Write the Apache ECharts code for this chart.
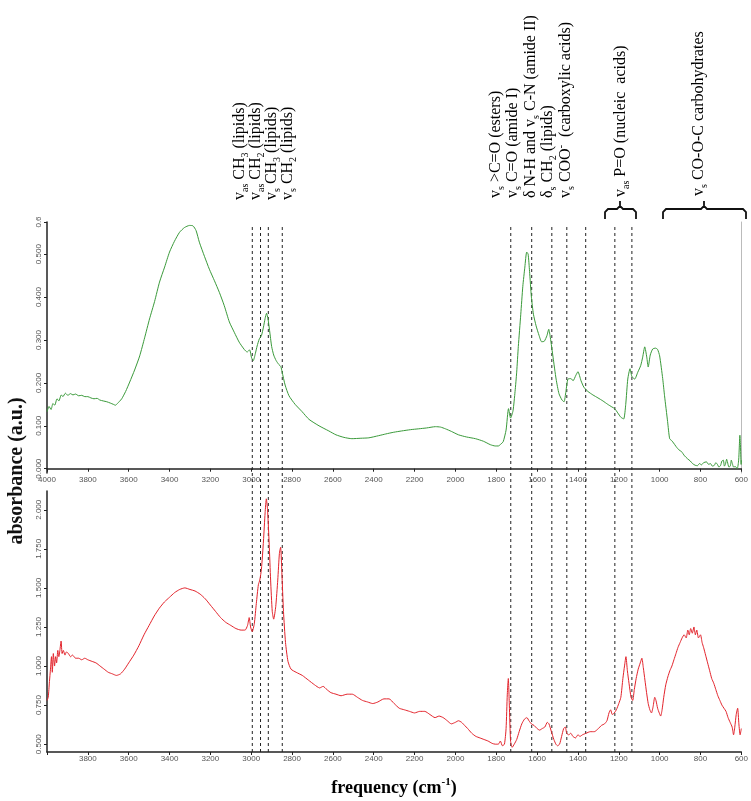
<!DOCTYPE html>
<html>
<head>
<meta charset="utf-8">
<script src="https://cdn.jsdelivr.net/npm/echarts@6/dist/echarts.min.js"></script>
<style>
html, body { margin: 0; padding: 0; background: #fff; }
#chartID { width: 751px; height: 801px; }
</style>
</head>
<body>
<div id="chartID"></div>
<script>
// upper spectrum (green)
var greenWn = [4000, 3990, 3980, 3971, 3962, 3951, 3942, 3930, 3922, 3910, 3898, 3885, 3873, 3860, 3845, 3830, 3815, 3800, 3785, 3770, 3755, 3741, 3725, 3707, 3690, 3675, 3665, 3655, 3645, 3634, 3615, 3595, 3571, 3546, 3522, 3498, 3473, 3449, 3424, 3400, 3376, 3351, 3327, 3302, 3285, 3270, 3254, 3229, 3205, 3180, 3156, 3132, 3107, 3083, 3059, 3034, 3020, 3008, 2998, 2990, 2980, 2971, 2960, 2950, 2940, 2932, 2925, 2918, 2910, 2900, 2890, 2878, 2865, 2855, 2849, 2834, 2815, 2785, 2751, 2717, 2668, 2620, 2585, 2546, 2507, 2463, 2424, 2376, 2341, 2302, 2263, 2220, 2180, 2141, 2098, 2073, 2049, 2020, 1985, 1946, 1902, 1863, 1829, 1805, 1790, 1776, 1766, 1752, 1740, 1730, 1718, 1708, 1700, 1692, 1680, 1670, 1660, 1651, 1644, 1637, 1628, 1618, 1605, 1590, 1578, 1565, 1552, 1543, 1535, 1522, 1507, 1493, 1478, 1468, 1459, 1449, 1434, 1424, 1410, 1400, 1385, 1371, 1351, 1327, 1302, 1278, 1254, 1234, 1220, 1205, 1190, 1176, 1166, 1156, 1145, 1136, 1122, 1107, 1093, 1083, 1073, 1063, 1056, 1046, 1034, 1020, 1010, 1000, 985, 976, 961, 951, 940, 932, 920, 912, 900, 893, 878, 863, 850, 839, 826, 815, 805, 795, 785, 771, 760, 751, 742, 732, 725, 717, 710, 702, 695, 688, 683, 678, 672, 668, 661, 654, 649, 644, 638, 629, 620, 613, 607, 604, 601, 600];
var greenAbs = [0.133, 0.145, 0.138, 0.152, 0.148, 0.163, 0.158, 0.172, 0.168, 0.176, 0.171, 0.175, 0.172, 0.174, 0.17, 0.171, 0.168, 0.168, 0.165, 0.163, 0.164, 0.16, 0.158, 0.156, 0.153, 0.15, 0.148, 0.152, 0.157, 0.163, 0.18, 0.202, 0.23, 0.263, 0.305, 0.349, 0.39, 0.435, 0.47, 0.505, 0.53, 0.551, 0.562, 0.567, 0.566, 0.555, 0.528, 0.495, 0.465, 0.438, 0.411, 0.38, 0.342, 0.318, 0.295, 0.278, 0.272, 0.277, 0.258, 0.252, 0.268, 0.286, 0.303, 0.31, 0.33, 0.35, 0.362, 0.35, 0.322, 0.285, 0.265, 0.252, 0.243, 0.238, 0.226, 0.195, 0.17, 0.15, 0.133, 0.115, 0.1, 0.088, 0.079, 0.073, 0.07, 0.071, 0.072, 0.077, 0.081, 0.085, 0.088, 0.091, 0.093, 0.095, 0.098, 0.097, 0.093, 0.087, 0.079, 0.074, 0.07, 0.064, 0.056, 0.053, 0.053, 0.058, 0.063, 0.09, 0.14, 0.118, 0.135, 0.18, 0.225, 0.285, 0.36, 0.425, 0.47, 0.505, 0.5, 0.46, 0.4, 0.36, 0.333, 0.31, 0.296, 0.297, 0.31, 0.325, 0.305, 0.26, 0.209, 0.175, 0.16, 0.156, 0.18, 0.209, 0.21, 0.205, 0.218, 0.226, 0.205, 0.19, 0.18, 0.172, 0.165, 0.158, 0.15, 0.144, 0.14, 0.13, 0.12, 0.116, 0.15, 0.209, 0.233, 0.215, 0.209, 0.225, 0.24, 0.26, 0.284, 0.26, 0.237, 0.265, 0.279, 0.281, 0.278, 0.263, 0.21, 0.17, 0.11, 0.07, 0.065, 0.06, 0.052, 0.047, 0.042, 0.04, 0.03, 0.023, 0.018, 0.012, 0.008, 0.007, 0.012, 0.009, 0.014, 0.016, 0.01, 0.012, 0.006, 0.008, 0.014, 0.01, 0.004, 0.007, 0.018, 0.02, 0.006, 0.01, 0.022, 0.016, 0.004, 0.006, 0.02, 0.012, 0.004, 0.005, 0.0, 0.02, 0.078, 0.05, 0.01, 0.02];

// lower spectrum (red)
var redWn = [4000, 3994, 3988, 3983, 3978, 3974, 3969, 3963, 3958, 3953, 3947, 3942, 3937, 3931, 3926, 3920, 3912, 3905, 3895, 3885, 3875, 3860, 3845, 3830, 3815, 3800, 3780, 3760, 3740, 3720, 3700, 3680, 3660, 3640, 3620, 3600, 3575, 3550, 3525, 3500, 3475, 3450, 3425, 3400, 3375, 3350, 3325, 3300, 3275, 3250, 3225, 3200, 3175, 3150, 3125, 3100, 3075, 3050, 3030, 3018, 3010, 3003, 2995, 2985, 2975, 2965, 2958, 2950, 2940, 2932, 2926, 2920, 2912, 2905, 2897, 2890, 2880, 2870, 2862, 2856, 2850, 2842, 2832, 2820, 2805, 2780, 2750, 2720, 2690, 2665, 2648, 2630, 2610, 2585, 2560, 2530, 2505, 2480, 2455, 2430, 2405, 2380, 2350, 2325, 2300, 2275, 2250, 2225, 2200, 2175, 2150, 2125, 2100, 2080, 2060, 2040, 2020, 2000, 1985, 1970, 1955, 1940, 1920, 1900, 1880, 1860, 1840, 1820, 1805, 1790, 1780, 1770, 1760, 1752, 1746, 1741, 1736, 1730, 1722, 1712, 1700, 1688, 1675, 1662, 1650, 1640, 1628, 1615, 1600, 1588, 1575, 1562, 1550, 1542, 1530, 1518, 1508, 1500, 1490, 1480, 1470, 1462, 1455, 1445, 1435, 1425, 1412, 1400, 1390, 1378, 1360, 1340, 1320, 1300, 1285, 1270, 1258, 1248, 1240, 1232, 1222, 1212, 1200, 1190, 1180, 1172, 1165, 1158, 1150, 1140, 1132, 1124, 1115, 1105, 1095, 1087, 1080, 1072, 1064, 1056, 1048, 1040, 1032, 1024, 1018, 1010, 1002, 995, 988, 980, 970, 960, 950, 940, 930, 920, 910, 900, 890, 880, 870, 862, 855, 848, 840, 832, 825, 818, 810, 800, 792, 785, 775, 765, 755, 745, 735, 725, 715, 705, 695, 685, 675, 665, 655, 645, 638, 632, 625, 618, 612, 606, 600];
var redAbs = [0.78, 0.8, 0.9, 0.98, 1.06, 0.96, 1.08, 1.0, 1.06, 1.02, 1.1, 1.06, 1.1, 1.16, 1.08, 1.1, 1.07, 1.09, 1.08, 1.06, 1.07, 1.05, 1.05, 1.04, 1.05, 1.04, 1.03, 1.02, 1.0, 0.98, 0.96, 0.95, 0.94, 0.95, 0.98, 1.02, 1.07, 1.13, 1.2, 1.26, 1.32, 1.37, 1.41, 1.44, 1.47, 1.49, 1.5, 1.49, 1.48, 1.46, 1.43, 1.39, 1.35, 1.31, 1.28, 1.26, 1.24, 1.23, 1.23, 1.26, 1.31, 1.25, 1.22, 1.27, 1.4, 1.52, 1.55, 1.62, 1.8, 1.98, 2.07, 2.0, 1.78, 1.55, 1.35, 1.3, 1.38, 1.55, 1.72, 1.76, 1.6, 1.35, 1.15, 1.03, 0.98, 0.96, 0.94, 0.91, 0.88, 0.86, 0.87, 0.85, 0.83, 0.82, 0.81, 0.82, 0.82, 0.8, 0.78, 0.77, 0.76, 0.77, 0.79, 0.79, 0.76, 0.73, 0.72, 0.71, 0.7, 0.71, 0.71, 0.69, 0.67, 0.68, 0.67, 0.65, 0.63, 0.64, 0.65, 0.64, 0.62, 0.6, 0.57, 0.55, 0.54, 0.53, 0.52, 0.505, 0.5, 0.5, 0.52, 0.49, 0.5, 0.6, 0.82, 0.92, 0.75, 0.52, 0.48, 0.5, 0.53, 0.58, 0.63, 0.66, 0.67, 0.65, 0.63, 0.62, 0.6, 0.59, 0.6, 0.61, 0.64, 0.63, 0.58, 0.53, 0.5, 0.49, 0.5, 0.55, 0.6, 0.61, 0.57, 0.56, 0.57, 0.55, 0.54, 0.56, 0.55, 0.56, 0.57, 0.58, 0.58, 0.6, 0.62, 0.63, 0.65, 0.7, 0.72, 0.69, 0.7, 0.72, 0.76, 0.8, 0.92, 1.0, 1.06, 0.97, 0.89, 0.8, 0.78, 0.85, 0.92, 0.98, 1.02, 1.05, 0.99, 0.91, 0.83, 0.76, 0.72, 0.7, 0.74, 0.8, 0.78, 0.73, 0.7, 0.68, 0.72, 0.8, 0.88, 0.93, 0.97, 1.0, 1.04, 1.08, 1.12, 1.15, 1.18, 1.2, 1.18, 1.23, 1.2, 1.24, 1.21, 1.25, 1.2, 1.23, 1.18, 1.2, 1.15, 1.12, 1.07, 1.02, 0.97, 0.92, 0.89, 0.85, 0.81, 0.78, 0.75, 0.73, 0.71, 0.67, 0.64, 0.61, 0.56, 0.61, 0.69, 0.73, 0.63, 0.56, 0.6];

// band positions marked by dashed lines (cm-1)
var bandLines = [3000, 2960, 2922, 2854, 1741, 1639, 1541, 1468, 1376, 1234, 1151];

// y tick values
var topTicks = [0, 0.1, 0.2, 0.3, 0.4, 0.5, 0.575];
var bottomTicks = [0.5, 0.75, 1.0, 1.25, 1.5, 1.75, 2.0];

// band annotations: rich text, column x, bottom y
var bandLabels = [
    ['{n|v}{s|as}{n| CH}{s|3}{n| (lipids)}', 240, 200],
    ['{n|v}{s|as}{n| CH}{s|2}{n| (lipids)}', 256, 200],
    ['{n|v}{s|s}{n| CH}{s|3}{n| (lipids)}', 272, 200],
    ['{n|v}{s|s}{n| CH}{s|2}{n| (lipids)}', 288, 200],
    ['{n|v}{s|s}{n| >C=O (esters)}', 496, 198],
    ['{n|v}{s|s}{n| C=O (amide I)}', 513, 198],
    ['{n|δ N-H and v}{s|s}{n| C-N (amide II)}', 531, 198],
    ['{n|δ}{s|s}{n| CH}{s|2}{n| (lipids)}', 548, 198],
    ['{n|v}{s|s}{n| COO}{p|-}{n|  (carboxylic acids)}', 566, 198],
    ['{n|v}{s|as}{n| P=O (nucleic  acids)}', 621, 197],
    ['{n|v}{s|s}{n| CO-O-C carbohydrates}', 699, 196]
];

var chart = echarts.init(document.getElementById('chartID'));

var serif = '"Liberation Serif", "DejaVu Serif", serif';
var richStyle = {
    n: { fontSize: 16, fontFamily: serif, lineHeight: 20, color: '#1a1a1a' },
    s: { fontSize: 10, fontFamily: serif, lineHeight: 10, verticalAlign: 'bottom', color: '#1a1a1a' },
    p: { fontSize: 10, fontFamily: serif, lineHeight: 10, verticalAlign: 'top', color: '#1a1a1a' }
};

function toPairs(xs, ys) {
    return xs.map(function (x, i) { return [x, ys[i]]; });
}

function freqAxis(grid, hideFirst) {
    return {
        type: 'value', gridIndex: grid, min: 600, max: 4000, interval: 200, inverse: true,
        axisLine: { lineStyle: { color: '#222', width: 1.5 } },
        axisTick: { length: 3, lineStyle: { color: '#222' } },
        axisLabel: {
            fontSize: 8, color: '#555', margin: 3, fontFamily: 'Liberation Sans',
            formatter: function (v) { return (hideFirst && v === 4000) ? '' : String(v); }
        },
        splitLine: { show: false }
    };
}

var graphics = [];
bandLabels.forEach(function (b) {
    graphics.push({
        type: 'text', x: b[1], y: b[2], rotation: Math.PI / 2,
        style: { text: b[0], rich: richStyle, align: 'left', verticalAlign: 'middle', textAlign: 'left', textVerticalAlign: 'middle' }
    });
});

// braces over the P=O and carbohydrate regions
function brace(x1, x2, xm) {
    return {
        type: 'polyline',
        shape: { points: [[x1, 219], [x1, 212], [x1 + 3, 209], [xm - 3, 209], [xm, 206], [xm, 201], [xm, 206], [xm + 3, 209], [x2 - 3, 209], [x2, 212], [x2, 219]] },
        style: { stroke: '#111', lineWidth: 1.8, fill: null }
    };
}
graphics.push(brace(605, 636, 620));
graphics.push(brace(663, 746, 704));

graphics.push({
    type: 'text', x: 17, y: 471, rotation: Math.PI / 2,
    style: { text: 'absorbance (a.u.)', font: 'bold 20px ' + serif, fill: '#111', align: 'center', verticalAlign: 'middle', textAlign: 'center', textVerticalAlign: 'middle' }
});
graphics.push({
    type: 'text', x: 394, y: 788,
    style: {
        text: '{b|frequency (cm}{u|-1}{b|)}',
        rich: {
            b: { fontSize: 18, fontWeight: 'bold', fontFamily: serif, lineHeight: 22, color: '#111' },
            u: { fontSize: 11, fontWeight: 'bold', fontFamily: serif, lineHeight: 11, verticalAlign: 'top', color: '#111' }
        },
        align: 'center', verticalAlign: 'middle', textAlign: 'center', textVerticalAlign: 'middle'
    }
});

var seriesList = [
    {
        type: 'line', xAxisIndex: 0, yAxisIndex: 0, data: toPairs(greenWn, greenAbs),
        showSymbol: false, smooth: 0.2, lineStyle: { color: '#3a9a3a', width: 1 }, z: 3, silent: true
    },
    {
        type: 'line', xAxisIndex: 1, yAxisIndex: 2, data: toPairs(redWn, redAbs),
        showSymbol: false, smooth: 0.2, lineStyle: { color: '#e3232b', width: 1 }, z: 3, silent: true
    }
];

bandLines.forEach(function (wn) {
    seriesList.push({
        type: 'line', xAxisIndex: 2, yAxisIndex: 3, data: [[wn, 0], [wn, 1]],
        showSymbol: false, silent: true, z: 2,
        lineStyle: { color: '#222', width: 1, type: [3, 3] }
    });
});

var option = {
    animation: false,
    backgroundColor: '#fff',
    grid: [
        { left: 47, right: 6, top: 222, height: 251 },
        { left: 47, right: 6, top: 491, height: 261 },
        { left: 47, right: 6, top: 227, height: 525 }
    ],
    xAxis: [
        freqAxis(0, false),
        freqAxis(1, true),
        { type: 'value', gridIndex: 2, min: 600, max: 4000, inverse: true, show: false }
    ],
    yAxis: [
        {
            type: 'value', gridIndex: 0, min: -0.01, max: 0.575,
            axisLine: { show: true, lineStyle: { color: '#222', width: 1.5 } },
            axisTick: { show: true, length: 3, customValues: topTicks },
            axisLabel: {
                customValues: topTicks, rotate: 90, fontSize: 8, color: '#555', margin: 4, fontFamily: 'Liberation Sans',
                formatter: function (v) { return v > 0.55 ? '0.6' : v.toFixed(3); }
            },
            splitLine: { show: false }
        },
        {
            type: 'value', gridIndex: 0, position: 'right', min: -0.01, max: 0.575,
            axisLine: { show: true, lineStyle: { color: '#bbb', width: 1 } },
            axisTick: { show: false }, axisLabel: { show: false }, splitLine: { show: false }
        },
        {
            type: 'value', gridIndex: 1, min: 0.45, max: 2.12,
            axisLine: { show: true, lineStyle: { color: '#222', width: 1.5 } },
            axisTick: { show: true, length: 3, customValues: bottomTicks },
            axisLabel: {
                customValues: bottomTicks, rotate: 90, fontSize: 8, color: '#555', margin: 4, fontFamily: 'Liberation Sans',
                formatter: function (v) { return v.toFixed(3); }
            },
            splitLine: { show: false }
        },
        { type: 'value', gridIndex: 2, min: 0, max: 1, show: false }
    ],
    graphic: graphics,
    series: seriesList
};

chart.setOption(option);
</script>
</body>
</html>
